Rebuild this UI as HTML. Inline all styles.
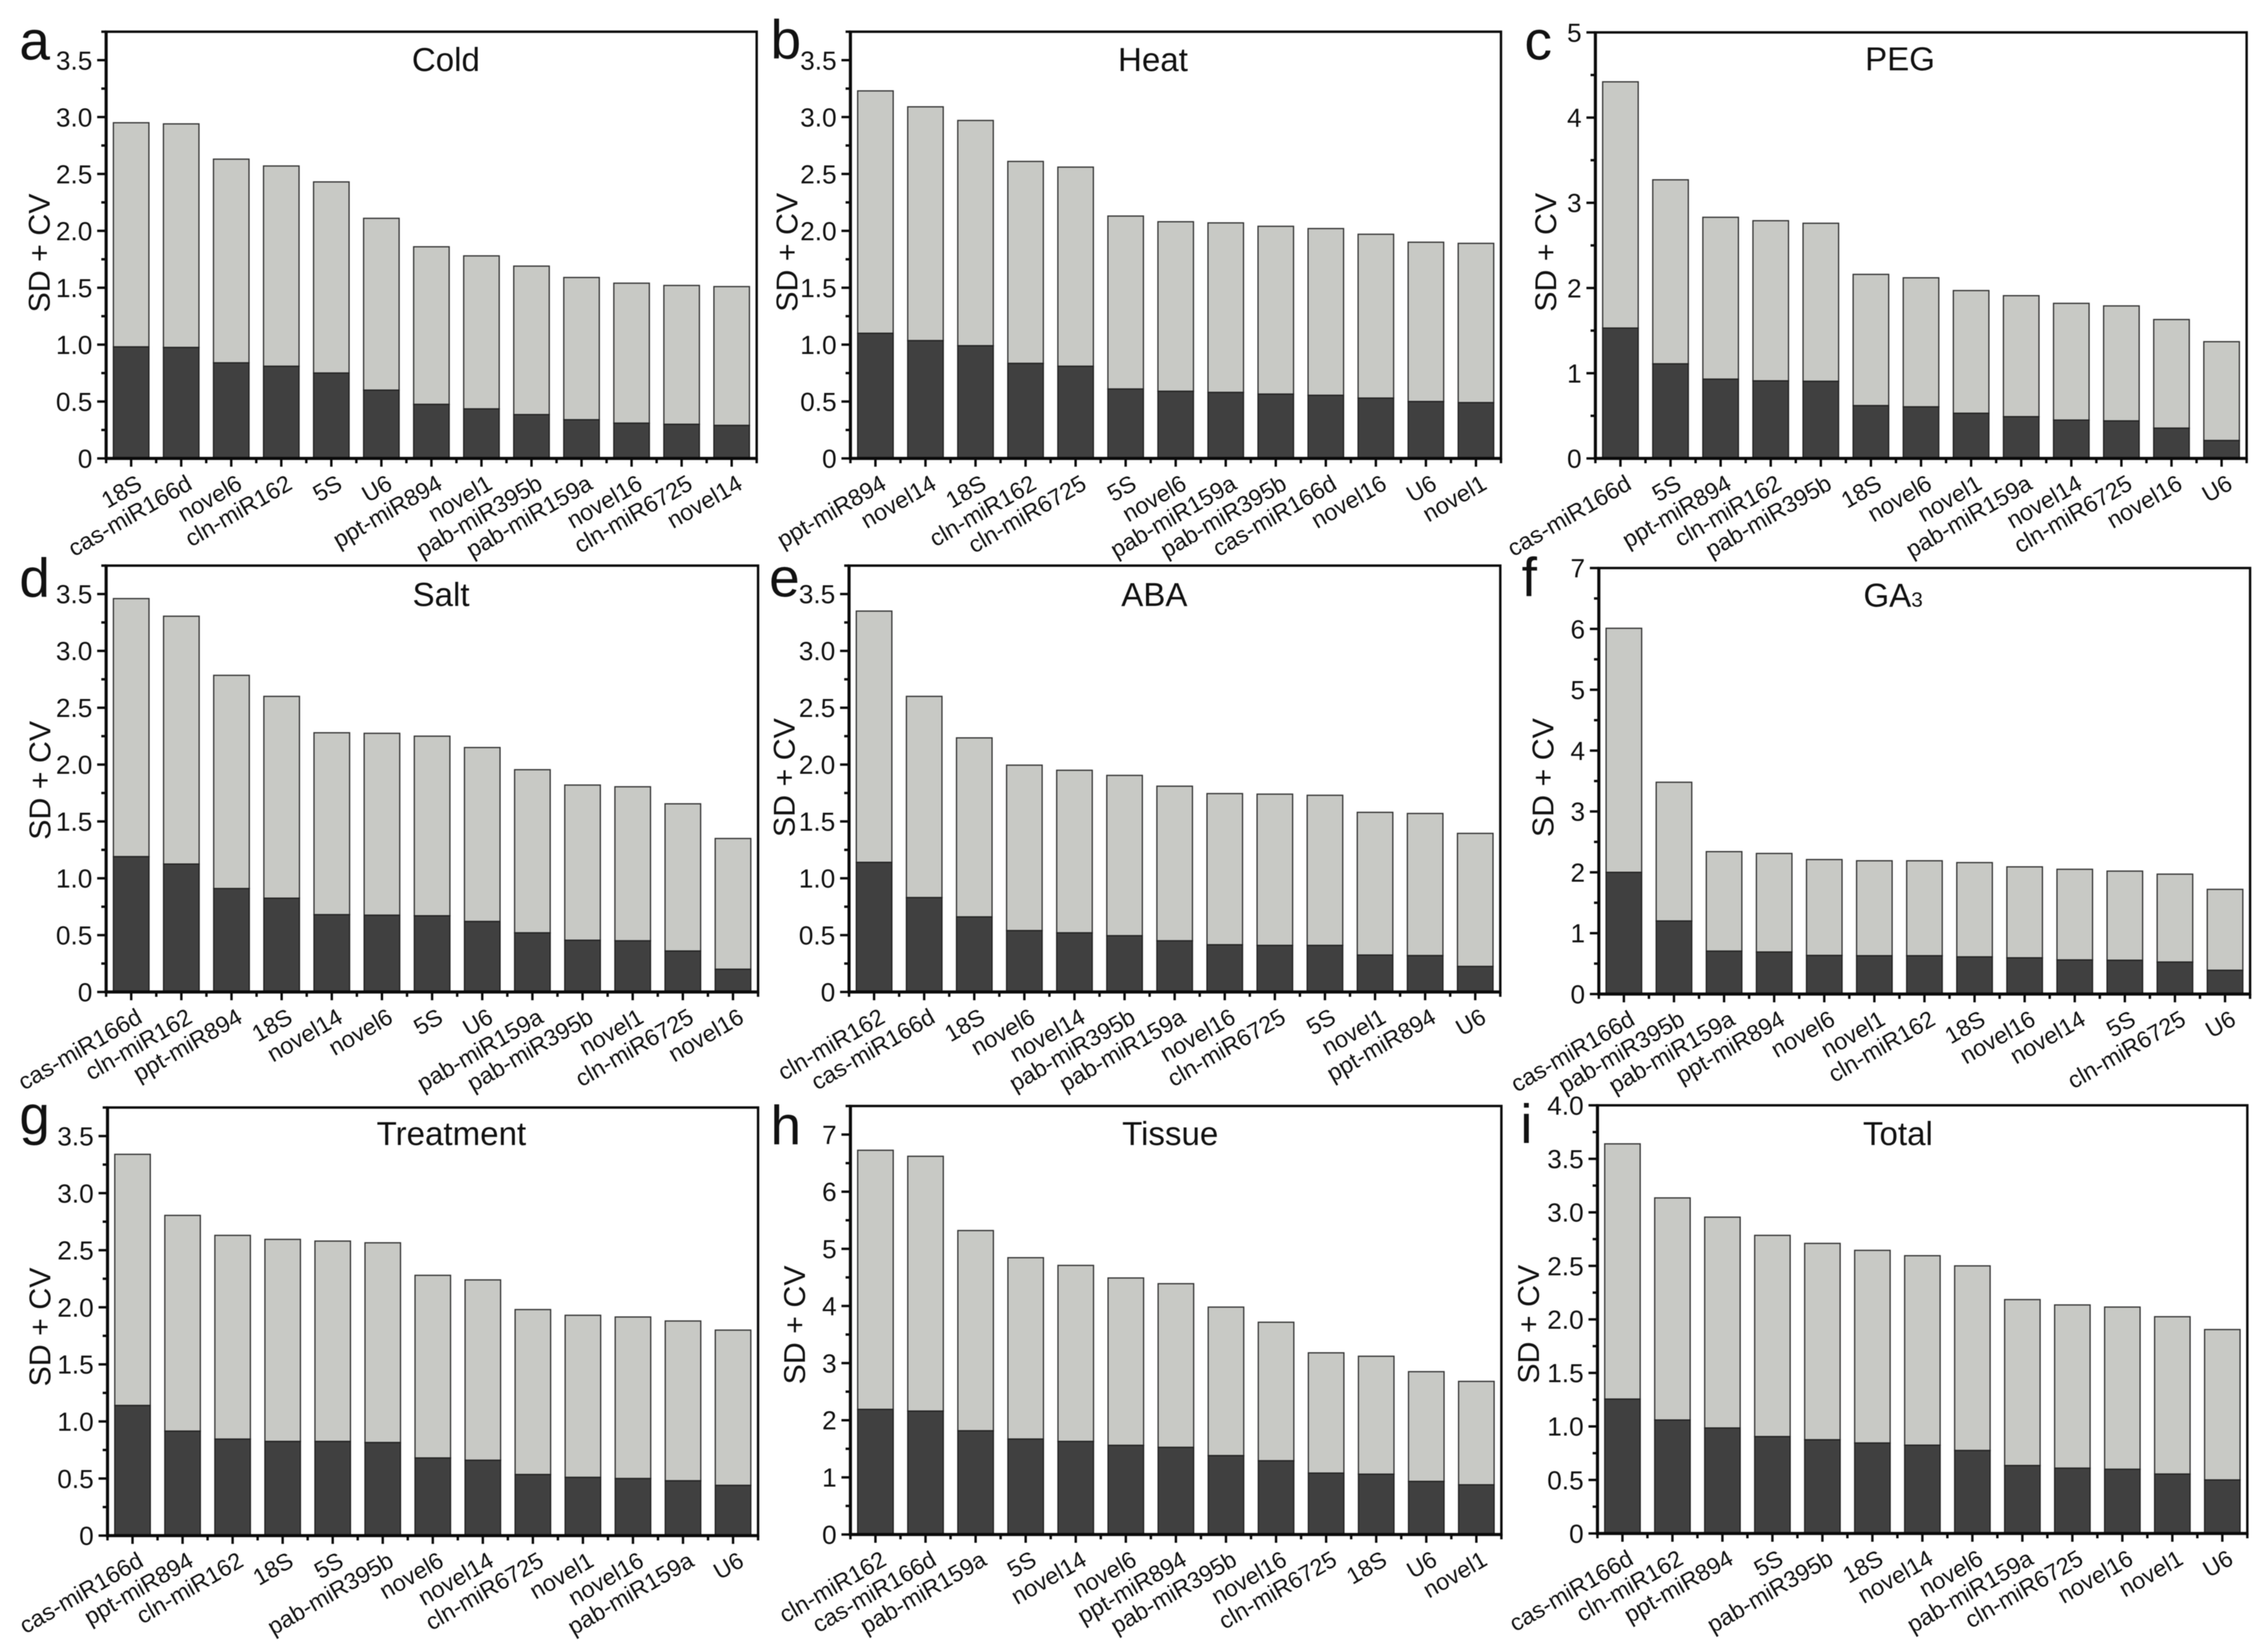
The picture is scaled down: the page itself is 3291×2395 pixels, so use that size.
<!DOCTYPE html>
<html lang="en">
<head>
<meta charset="utf-8">
<title>SD + CV stability of reference genes</title>
<style>
html,body{margin:0;padding:0;background:#fff;}
svg{display:block;font-family:"Liberation Sans",Arial,sans-serif;fill:#111;filter:blur(0.6px);}
.letter{font-size:80px;}
.title{font-size:48px;text-anchor:middle;}
.ytitle{font-size:44px;text-anchor:middle;}
</style>
</head>
<body>
<svg id="figure" xmlns="http://www.w3.org/2000/svg" width="3291" height="2395" viewBox="0 0 3291 2395">
<rect width="3291" height="2395" fill="#fff"/>
<g id="panel-a">
<text class="letter" x="28" y="86">a</text>
<text class="title" x="647" y="103">Cold</text>
<text class="ytitle" transform="translate(72,367) rotate(-90)">SD + CV</text>
</g>
<g id="panel-b">
<text class="letter" x="1118" y="85">b</text>
<text class="title" x="1673" y="103">Heat</text>
<text class="ytitle" transform="translate(1157,366) rotate(-90)">SD + CV</text>
</g>
<g id="panel-c">
<text class="letter" x="2212" y="86">c</text>
<text class="title" x="2757" y="102">PEG</text>
<text class="ytitle" transform="translate(2258,366) rotate(-90)">SD + CV</text>
</g>
<g id="panel-d">
<text class="letter" x="28" y="866">d</text>
<text class="title" x="640" y="879">Salt</text>
<text class="ytitle" transform="translate(73,1132) rotate(-90)">SD + CV</text>
</g>
<g id="panel-e">
<text class="letter" x="1116" y="865">e</text>
<text class="title" x="1675" y="879">ABA</text>
<text class="ytitle" transform="translate(1153,1128) rotate(-90)">SD + CV</text>
</g>
<g id="panel-f">
<text class="letter" x="2208" y="865">f</text>
<text class="title" x="2747" y="880">GA<tspan font-size="30">3</tspan></text>
<text class="ytitle" transform="translate(2254,1128) rotate(-90)">SD + CV</text>
</g>
<g id="panel-g">
<text class="letter" x="28" y="1645">g</text>
<text class="title" x="655" y="1661">Treatment</text>
<text class="ytitle" transform="translate(73,1925) rotate(-90)">SD + CV</text>
</g>
<g id="panel-h">
<text class="letter" x="1118" y="1660">h</text>
<text class="title" x="1698" y="1661">Tissue</text>
<text class="ytitle" transform="translate(1168,1922) rotate(-90)">SD + CV</text>
</g>
<g id="panel-i">
<text class="letter" x="2206" y="1658">i</text>
<text class="title" x="2754" y="1661">Total</text>
<text class="ytitle" transform="translate(2233,1921) rotate(-90)">SD + CV</text>
</g>
</svg>
<script>
// ---- tick labels ----
const ticksHalf375 = ["0","0.5","1.0","1.5","2.0","2.5","3.0","3.5"];
const ticksInt5 = ["0","1","2","3","4","5"];
const ticksInt7 = ["0","1","2","3","4","5","6","7"];
const ticksHalf4 = ["0","0.5","1.0","1.5","2.0","2.5","3.0","3.5","4.0"];

// ---- categories ----
const coldCats = ["18S","cas-miR166d","novel6","cln-miR162","5S","U6","ppt-miR894","novel1","pab-miR395b","pab-miR159a","novel16","cln-miR6725","novel14"];
const heatCats = ["ppt-miR894","novel14","18S","cln-miR162","cln-miR6725","5S","novel6","pab-miR159a","pab-miR395b","cas-miR166d","novel16","U6","novel1"];
const pegCats = ["cas-miR166d","5S","ppt-miR894","cln-miR162","pab-miR395b","18S","novel6","novel1","pab-miR159a","novel14","cln-miR6725","novel16","U6"];
const saltCats = ["cas-miR166d","cln-miR162","ppt-miR894","18S","novel14","novel6","5S","U6","pab-miR159a","pab-miR395b","novel1","cln-miR6725","novel16"];
const abaCats = ["cln-miR162","cas-miR166d","18S","novel6","novel14","pab-miR395b","pab-miR159a","novel16","cln-miR6725","5S","novel1","ppt-miR894","U6"];
const ga3Cats = ["cas-miR166d","pab-miR395b","pab-miR159a","ppt-miR894","novel6","novel1","cln-miR162","18S","novel16","novel14","5S","cln-miR6725","U6"];
const treatmentCats = ["cas-miR166d","ppt-miR894","cln-miR162","18S","5S","pab-miR395b","novel6","novel14","cln-miR6725","novel1","novel16","pab-miR159a","U6"];
const tissueCats = ["cln-miR162","cas-miR166d","pab-miR159a","5S","novel14","novel6","ppt-miR894","pab-miR395b","novel16","cln-miR6725","18S","U6","novel1"];
const totalCats = ["cas-miR166d","cln-miR162","ppt-miR894","5S","pab-miR395b","18S","novel14","novel6","pab-miR159a","cln-miR6725","novel16","novel1","U6"];

// ---- series: SD (dark segment) and SD + CV (top of stack) ----
const coldSD = [0.98,0.975,0.84,0.81,0.75,0.60,0.475,0.435,0.385,0.34,0.31,0.30,0.29];
const coldSum = [2.95,2.94,2.63,2.57,2.43,2.11,1.86,1.78,1.69,1.59,1.54,1.52,1.51];
const heatSD = [1.10,1.035,0.99,0.835,0.81,0.61,0.59,0.58,0.565,0.555,0.53,0.50,0.49];
const heatSum = [3.23,3.09,2.97,2.61,2.56,2.13,2.08,2.07,2.04,2.02,1.97,1.90,1.89];
const pegSD = [1.53,1.11,0.93,0.91,0.905,0.62,0.605,0.53,0.49,0.45,0.44,0.355,0.21];
const pegSum = [4.42,3.27,2.83,2.79,2.76,2.16,2.12,1.97,1.91,1.82,1.79,1.63,1.37];
const saltSD = [1.19,1.125,0.91,0.825,0.68,0.675,0.67,0.62,0.52,0.455,0.45,0.36,0.20];
const saltSum = [3.46,3.305,2.785,2.60,2.28,2.275,2.25,2.15,1.955,1.82,1.805,1.655,1.35];
const abaSD = [1.14,0.83,0.66,0.54,0.52,0.495,0.45,0.415,0.41,0.41,0.325,0.32,0.225];
const abaSum = [3.35,2.60,2.235,1.995,1.95,1.905,1.81,1.745,1.74,1.73,1.58,1.57,1.395];
const ga3SD = [2.0,1.2,0.705,0.69,0.635,0.63,0.63,0.61,0.595,0.56,0.555,0.525,0.39];
const ga3Sum = [6.01,3.48,2.34,2.31,2.21,2.19,2.19,2.16,2.09,2.05,2.02,1.97,1.72];
const treatmentSD = [1.14,0.915,0.845,0.825,0.825,0.815,0.68,0.66,0.535,0.51,0.50,0.48,0.44];
const treatmentSum = [3.34,2.805,2.63,2.595,2.58,2.565,2.28,2.24,1.98,1.93,1.915,1.88,1.80];
const tissueSD = [2.19,2.16,1.815,1.67,1.63,1.56,1.525,1.38,1.29,1.075,1.055,0.93,0.87];
const tissueSum = [6.725,6.62,5.32,4.845,4.71,4.49,4.39,3.98,3.715,3.18,3.12,2.85,2.68];
const totalSD = [1.255,1.06,0.985,0.905,0.875,0.845,0.825,0.775,0.635,0.61,0.60,0.555,0.50];
const totalSum = [3.64,3.135,2.955,2.785,2.71,2.645,2.595,2.50,2.185,2.135,2.115,2.025,1.905];

// ---- panel wiring + frame geometry (layout only) ----
const panels = [
  {id:"a",cats:coldCats,sd:coldSD,sum:coldSum,ticks:ticksHalf375,ymax:3.75,l:154,r:1098,t:46,b:665},
  {id:"b",cats:heatCats,sd:heatSD,sum:heatSum,ticks:ticksHalf375,ymax:3.75,l:1234,r:2178,t:46,b:665},
  {id:"c",cats:pegCats,sd:pegSD,sum:pegSum,ticks:ticksInt5,ymax:5,l:2315,r:3260,t:47,b:665},
  {id:"d",cats:saltCats,sd:saltSD,sum:saltSum,ticks:ticksHalf375,ymax:3.75,l:154,r:1100,t:820.5,b:1439},
  {id:"e",cats:abaCats,sd:abaSD,sum:abaSum,ticks:ticksHalf375,ymax:3.75,l:1232,r:2177,t:820.5,b:1439},
  {id:"f",cats:ga3Cats,sd:ga3SD,sum:ga3Sum,ticks:ticksInt7,ymax:7,l:2320,r:3265,t:824,b:1442},
  {id:"g",cats:treatmentCats,sd:treatmentSD,sum:treatmentSum,ticks:ticksHalf375,ymax:3.75,l:156,r:1100,t:1606.6,b:2227.6},
  {id:"h",cats:tissueCats,sd:tissueSD,sum:tissueSum,ticks:ticksInt7,ymax:7.5,l:1234,r:2178.6,t:1604.4,b:2226},
  {id:"i",cats:totalCats,sd:totalSD,sum:totalSum,ticks:ticksHalf4,ymax:4,l:2318,r:3261,t:1603.4,b:2224.5}
];

const NS = "http://www.w3.org/2000/svg";
function mk(tag, attrs, parent) {
  const el = document.createElementNS(NS, tag);
  for (const k in attrs) el.setAttribute(k, attrs[k]);
  parent.appendChild(el);
  return el;
}
function line(x1, y1, x2, y2, w, parent) {
  return mk("line", {x1:x1, y1:y1, x2:x2, y2:y2, stroke:"#0a0a0a", "stroke-width":w}, parent);
}

panels.forEach(function (p) {
  const root = document.getElementById("panel-" + p.id);
  const yScale = function (v) { return p.b - (v / p.ymax) * (p.b - p.t); };
  const band = (p.r - p.l) / p.cats.length;
  const xCenter = function (i) { return p.l + band * (i + 0.5); };
  const barW = band * 0.71;

  // bars
  p.cats.forEach(function (cat, i) {
    const x = xCenter(i) - barW / 2;
    const light = mk("rect", {x:x, y:yScale(p.sum[i]), width:barW, height:yScale(p.sd[i]) - yScale(p.sum[i]), fill:"#c8c9c5", stroke:"#333", "stroke-width":1.8}, root);
    
    
    const dark = mk("rect", {x:x, y:yScale(p.sd[i]), width:barW, height:p.b - yScale(p.sd[i]), fill:"#404040", stroke:"#222", "stroke-width":1.8}, root);
    
    
  });

  // frame
  const frame = mk("rect", {x:p.l, y:p.t, width:p.r - p.l, height:p.b - p.t, fill:"none", stroke:"#0a0a0a", "stroke-width":3.5}, root);
  
  

  // y axis
  const yAxis = mk("g", {}, root);
  
  
  line(p.l, p.t - 1.5, p.l, p.b + 2, 4.5, yAxis);
  const vals = p.ticks.map(Number);
  const step = vals[1] - vals[0];
  p.ticks.forEach(function (label, i) {
    const y = yScale(vals[i]);
    line(p.l - 13, y, p.l, y, 3.5, yAxis);
    const t = mk("text", {x:p.l - 20, y:y + 13.5, "font-size":38, "text-anchor":"end"}, yAxis);
    t.textContent = label;
    
    
  });
  for (let v = step / 2; v <= p.ymax + 1e-6; v += step) {
    line(p.l - 7, yScale(v), p.l, yScale(v), 3.5, yAxis);
  }

  // x axis
  const xAxis = mk("g", {}, root);
  
  
  line(p.l - 2, p.b, p.r + 1.5, p.b, 4.5, xAxis);
  for (let k = 0; k <= p.cats.length; k++) {
    line(p.l + band * k, p.b, p.l + band * k, p.b + 7, 3.5, xAxis);
  }
  p.cats.forEach(function (cat, i) {
    const x = xCenter(i);
    line(x, p.b, x, p.b + 12, 3.5, xAxis);
    const t = mk("text", {transform:"translate(" + (x + 18) + "," + (p.b + 43) + ") rotate(-30)", "font-size":34, "text-anchor":"end"}, xAxis);
    t.textContent = cat;
    
    
  });
});
</script>
</body>
</html>
